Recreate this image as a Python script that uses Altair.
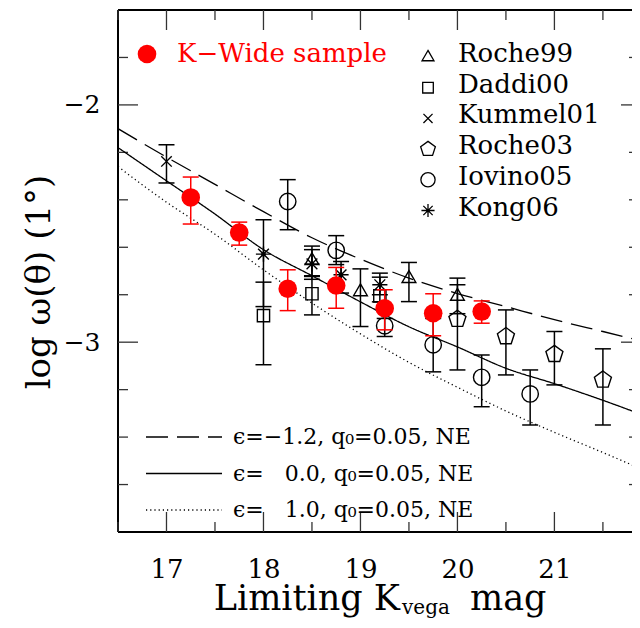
import altair as alt
import pandas as pd

W, H = 514, 522
FONT = "DejaVu Serif"

# ---------------- data ----------------
kw_x = [17.25, 17.75, 18.25, 18.75, 19.25, 19.75, 20.25]
kw_y = [-2.390, -2.538, -2.775, -2.761, -2.857, -2.878, -2.871]
kw_lo = [-2.502, -2.591, -2.867, -2.857, -2.948, -2.973, -2.920]
kw_hi = [-2.304, -2.494, -2.695, -2.685, -2.779, -2.796, -2.826]

roche99_x = [18.5, 19.0, 19.5, 20.0]
roche99_y = [-2.655, -2.786, -2.730, -2.805]
roche99_lo = [-2.720, -2.934, -2.829, -2.880]
roche99_hi = [-2.595, -2.691, -2.664, -2.730]

daddi00_x = [18.0, 18.5, 19.2]
daddi00_y = [-2.888, -2.796, -2.805]
daddi00_lo = [-3.095, -2.885, -2.830]
daddi00_hi = [-2.747, -2.723, -2.726]

kummel01_x = [17.0]
kummel01_y = [-2.238]
kummel01_lo = [-2.329]
kummel01_hi = [-2.168]

roche03_x = [20.0, 20.5, 21.0, 21.5]
roche03_y = [-2.903, -2.976, -3.051, -3.159]
roche03_lo = [-3.117, -3.138, -3.180, -3.349]
roche03_hi = [-2.758, -2.864, -2.955, -3.028]

iovino05_x = [18.25, 18.75, 19.25, 19.75, 20.25, 20.75]
iovino05_y = [-2.407, -2.613, -2.931, -3.011, -3.148, -3.218]
iovino05_lo = [-2.526, -2.673, -2.976, -3.125, -3.272, -3.349]
iovino05_hi = [-2.315, -2.551, -2.900, -2.900, -3.054, -3.117]

kong06_x = [18.0, 18.5, 18.8, 19.2]
kong06_y = [-2.629, -2.670, -2.716, -2.758]
kong06_lo = [-2.850, -2.735, -2.793, -2.800]
kong06_hi = [-2.484, -2.610, -2.660, -2.709]

model_x = [16.5, 17.0, 17.5, 18.0, 18.5, 19.0, 19.5, 20.0, 20.5, 21.0, 21.5, 21.9]
model_e_m12 = [-2.10, -2.22, -2.335, -2.45, -2.56, -2.65, -2.73, -2.795, -2.85, -2.905, -2.955, -2.995]
model_e_00 = [-2.18, -2.32, -2.46, -2.61, -2.72, -2.83, -2.935, -3.02, -3.11, -3.175, -3.245, -3.305]
model_e_10 = [-2.26, -2.41, -2.545, -2.695, -2.835, -2.965, -3.085, -3.19, -3.29, -3.38, -3.465, -3.535]

x_major = [17, 18, 19, 20, 21]
x_minor = [16.5, 17.5, 18.5, 19.5, 20.5, 21.5]
y_major = [-2, -3]
y_minor = [-3.6, -3.4, -3.2, -2.8, -2.6, -2.4, -2.2, -1.8]

legend_names = ["Roche99", "Daddi00", "Kummel01", "Roche03", "Iovino05", "Kong06"]
kw_label = "K\u2212Wide sample"
model_labels = ["\u03f5=\u22121.2, q\u2080=0.05, NE",
                "\u03f5=\u00a0\u00a0\u00a00.0, q\u2080=0.05, NE",
                "\u03f5=\u00a0\u00a0\u00a01.0, q\u2080=0.05, NE"]
model_dash = [[22, 9], [1, 0], [1.2, 3]]

# ---------------- scales / helpers ----------------
xsc = alt.Scale(domain=[16.5, 21.8], nice=False, zero=False)
ysc = alt.Scale(domain=[-3.8, -1.6], nice=False, zero=False)
xaxis = alt.Axis(values=x_major, ticks=False, domain=False, grid=False, title=None,
                 labelFont=FONT, labelFontSize=26, labelColor="black", labelPadding=24,
                 labelFlush=False)
yaxis = alt.Axis(values=y_major, ticks=False, domain=False, grid=False, title=None,
                 labelFont=FONT, labelFontSize=25, labelColor="black", labelPadding=18,
                 format="d", labelFlush=False)


def X(f):
    return alt.X(f, type="quantitative", scale=xsc, axis=xaxis)


def Y(f):
    return alt.Y(f, type="quantitative", scale=ysc, axis=yaxis)


one = alt.Data(values=[{"a": 1}])

TRI = "M0,-1.1L1,0.63L-1,0.63Z"
SQ = "square"
CROSS = "M-1,-1L1,1M-1,1L1,-1"
PENT = "M0,-1L0.951,-0.309L0.588,0.809L-0.588,0.809L-0.951,-0.309Z"
STAR = "M-1,0L1,0M0,-1L0,1M-0.71,-0.71L0.71,0.71M-0.71,0.71L0.71,-0.71"

series = [
    ("Roche99", roche99_x, roche99_y, roche99_lo, roche99_hi, TRI, 190),
    ("Daddi00", daddi00_x, daddi00_y, daddi00_lo, daddi00_hi, SQ, 150),
    ("Kummel01", kummel01_x, kummel01_y, kummel01_lo, kummel01_hi, CROSS, 110),
    ("Roche03", roche03_x, roche03_y, roche03_lo, roche03_hi, PENT, 320),
    ("Iovino05", iovino05_x, iovino05_y, iovino05_lo, iovino05_hi, "circle", 270),
    ("Kong06", kong06_x, kong06_y, kong06_lo, kong06_hi, STAR, 230),
]

layers = []

# frame (left, top, bottom)
layers.append(alt.Chart(one).mark_rule(color="black", strokeWidth=2).encode(
    x=alt.value(0), y=alt.value(0), y2=alt.value(H)))
layers.append(alt.Chart(one).mark_rule(color="black", strokeWidth=2).encode(
    x=alt.value(0), x2=alt.value(W), y=alt.value(0)))
layers.append(alt.Chart(one).mark_rule(color="black", strokeWidth=2).encode(
    x=alt.value(0), x2=alt.value(W), y=alt.value(H)))

# inward ticks
tk = dict(color="#333333", strokeWidth=1.3)
xmaj = pd.DataFrame({"v": x_major})
xmin = pd.DataFrame({"v": x_minor})
ymaj = pd.DataFrame({"v": y_major})
ymin = pd.DataFrame({"v": y_minor})
for df, L in [(xmaj, 20), (xmin, 10)]:
    layers.append(alt.Chart(df).mark_rule(**tk).encode(x=X("v"), y=alt.value(H), y2=alt.value(H - L)))
    layers.append(alt.Chart(df).mark_rule(**tk).encode(x=X("v"), y=alt.value(0), y2=alt.value(L)))
for df, L, R in [(ymaj, 20, 11), (ymin, 10, 3)]:
    layers.append(alt.Chart(df).mark_rule(**tk).encode(y=Y("v"), x=alt.value(0), x2=alt.value(L)))
    layers.append(alt.Chart(df).mark_rule(**tk).encode(y=Y("v"), x=alt.value(W), x2=alt.value(W - R)))

# model curves
mdf = pd.DataFrame({"x": model_x, "m12": model_e_m12, "m00": model_e_00, "m10": model_e_10})
for col, dash in zip(["m12", "m00", "m10"], model_dash):
    layers.append(alt.Chart(mdf).mark_line(color="black", strokeWidth=1.3, strokeDash=dash, clip=True,
                                           interpolate="monotone").encode(x=X("x"), y=Y(col)))


def errbars(df, color):
    out = []
    out.append(alt.Chart(df).mark_rule(color=color, strokeWidth=1.5).encode(
        x=X("x"), y=Y("lo"), y2="hi"))
    for f in ["lo", "hi"]:
        out.append(alt.Chart(df).mark_rule(color=color, strokeWidth=1.5, xOffset=-8, x2Offset=8).encode(
            x=X("x"), x2="x", y=Y(f)))
    return out


for name, xs_, ys_, lo_, hi_, shape, size in series:
    df = pd.DataFrame({"x": xs_, "y": ys_, "lo": lo_, "hi": hi_})
    layers += errbars(df, "black")
    layers.append(alt.Chart(df).mark_point(shape=shape, size=size, filled=False, color="black",
                                           strokeWidth=1.4, opacity=1).encode(x=X("x"), y=Y("y")))
    if name == "Kong06":
        layers.append(alt.Chart(df).mark_point(shape="circle", size=20, filled=True, color="black",
                                               opacity=1).encode(x=X("x"), y=Y("y")))

kdf = pd.DataFrame({"x": kw_x, "y": kw_y, "lo": kw_lo, "hi": kw_hi})
layers += errbars(kdf, "#ff0000")
layers.append(alt.Chart(kdf).mark_point(shape="circle", size=346, filled=True, color="#ff0000",
                                        opacity=1).encode(x=X("x"), y=Y("y")))

# ---------------- legends ----------------
layers.append(alt.Chart(one).mark_point(shape="circle", size=346, filled=True, color="#ff0000",
                                        opacity=1).encode(x=alt.value(29), y=alt.value(44)))
layers.append(alt.Chart(one).mark_text(text=kw_label, font=FONT, fontSize=26, color="#ff0000",
                                       align="left", baseline="alphabetic").encode(
    x=alt.value(59), y=alt.value(52)))
for i, (name, *_r) in enumerate(series):
    shape, size = _r[4], _r[5]
    layers.append(alt.Chart(one).mark_point(shape=shape, size=size * 0.75, filled=False, color="black",
                                            strokeWidth=1.3, opacity=1).encode(
        x=alt.value(310), y=alt.value(47 + i * 30.7)))
    if name == "Kong06":
        layers.append(alt.Chart(one).mark_point(shape="circle", size=14, filled=True, color="black",
                                                opacity=1).encode(x=alt.value(310), y=alt.value(47 + i * 30.7)))
    layers.append(alt.Chart(one).mark_text(text=legend_names[i], font=FONT, fontSize=26, color="black",
                                           align="left", baseline="alphabetic").encode(
        x=alt.value(340), y=alt.value(52 + i * 30.7)))

for i, (lab, dash) in enumerate(zip(model_labels, model_dash)):
    yy = 427 + i * 36.5
    layers.append(alt.Chart(one).mark_rule(color="black", strokeWidth=1.3, strokeDash=dash).encode(
        x=alt.value(28), x2=alt.value(104), y=alt.value(yy)))
    layers.append(alt.Chart(one).mark_text(text=lab, font=FONT, fontSize=22, color="black",
                                           align="left", baseline="middle").encode(
        x=alt.value(115), y=alt.value(yy)))

# ---------------- axis titles ----------------
layers.append(alt.Chart(one).mark_text(text="Limiting K", font=FONT, fontSize=35, color="black",
                                       align="right", baseline="alphabetic").encode(
    x=alt.value(282), y=alt.value(600)))
layers.append(alt.Chart(one).mark_text(text="vega", font=FONT, fontSize=20, color="black",
                                       align="left", baseline="alphabetic").encode(
    x=alt.value(284), y=alt.value(604)))
layers.append(alt.Chart(one).mark_text(text="mag", font=FONT, fontSize=35, color="black",
                                       align="left", baseline="alphabetic").encode(
    x=alt.value(352), y=alt.value(600)))
layers.append(alt.Chart(one).mark_text(text="log \u03c9(\u03b8) (1\u00b0)", font=FONT, fontSize=34,
                                       color="black", align="center", baseline="middle", angle=270).encode(
    x=alt.value(-78), y=alt.value(272)))

chart = alt.layer(*layers).properties(
    width=W, height=H,
    autosize=alt.AutoSizeParams(type="none"),
    padding={"left": 110, "top": 2, "right": 0, "bottom": 88},
    background="white",
).configure_view(stroke=None)

chart.save("out.html", embed_options={"renderer": "svg", "actions": False})
